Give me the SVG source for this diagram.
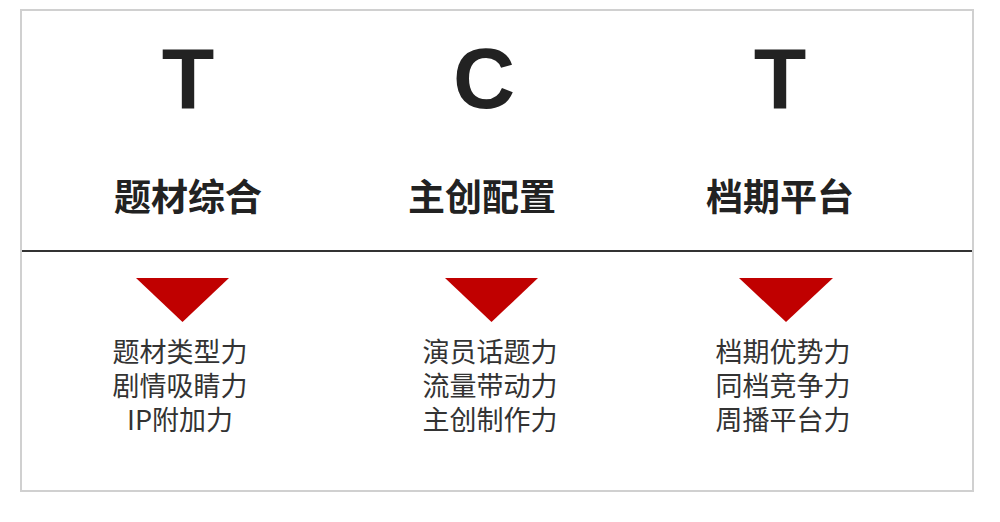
<svg xmlns="http://www.w3.org/2000/svg" width="1000" height="522" viewBox="0 0 1000 522">
<style>
.big{font-family:"Liberation Sans",Arial,sans-serif;font-weight:bold;font-size:86px;fill:#222;text-anchor:middle}
.title{font-family:"Noto Sans CJK SC",sans-serif;font-weight:bold;font-size:37px;fill:#222;text-anchor:middle}
.item{font-family:"Noto Sans CJK SC",sans-serif;font-size:27px;fill:#333;text-anchor:middle}
.tri{fill:#c00000}
</style>
<rect x="0" y="0" width="1000" height="522" fill="#fff"/>
<rect x="21" y="10" width="952" height="481" fill="#fff" stroke="#d0d0d0" stroke-width="2"/>
<g id="connectors">
<line x1="22" y1="251" x2="972" y2="251" stroke="#333" stroke-width="2"/>
</g>
<g id="col-t1">
<text class="big" x="188" y="108">T</text>
<text class="title" x="188" y="211">题材综合</text>
<polygon class="tri" points="136,278 229,278 182.5,322"/>
<text class="item" x="180" y="362">题材类型力</text>
<text class="item" x="180" y="396">剧情吸睛力</text>
<text class="item" x="180" y="429.5">IP附加力</text>
</g>
<g id="col-c">
<text class="big" x="484" y="108">C</text>
<text class="title" x="482" y="211">主创配置</text>
<polygon class="tri" points="445,278 538,278 491.5,322"/>
<text class="item" x="490" y="362">演员话题力</text>
<text class="item" x="490" y="396">流量带动力</text>
<text class="item" x="490" y="429.5">主创制作力</text>
</g>
<g id="col-t2">
<text class="big" x="780" y="108">T</text>
<text class="title" x="780" y="211">档期平台</text>
<polygon class="tri" points="739,278 833,278 786,322"/>
<text class="item" x="783" y="362">档期优势力</text>
<text class="item" x="783" y="396">同档竞争力</text>
<text class="item" x="783" y="429.5">周播平台力</text>
</g>
</svg>
